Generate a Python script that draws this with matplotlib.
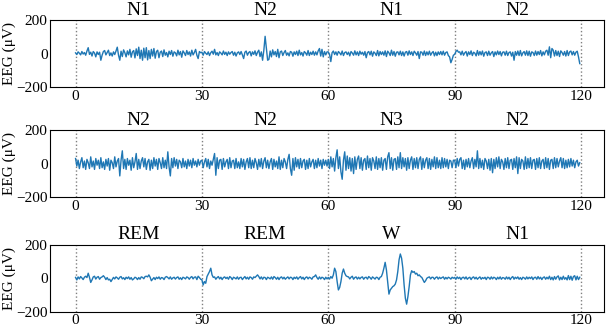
import numpy as np
import matplotlib
matplotlib.use("Agg")
import matplotlib.pyplot as plt
import matplotlib.transforms as mtransforms

################################
#### data (EEG in uV, 100 samples per 30 s epoch)
################################

stages = [["N1", "N2", "N1", "N2"],
          ["N2", "N2", "N3", "N2"],
          ["REM", "REM", "W", "N1"]]

p1_e1 = [4, -6, 10, 2, -8, 12, -3, 6, -10, 15, 35, -5, 8, -15, 12, 3, -20, 10, -6, 8,
         -40, -10, 12, 18, -8, 6, 20, -12, 4, -15, 10, -6, 15, 38, -10, -40, 14, -18, 22, 5,
         -20, 16, -8, 25, -22, 10, 18, -26, 28, -12, 38, -30, 20, -40, 32, -25, 35, -38, 18, -30,
         25, -15, 30, -28, 12, 20, -25, 8, 15, -18, 22, -10, 6, -20, 14, -6, 18, -16, 10, 4,
         -14, 20, -8, 12, -22, 16, 4, -12, 18, -6, 10, -15, 20, -8, 6, 25, -10, -30, 12, 5]
p1_e2 = [8, -10, 12, 2, -6, 10, -12, 5, 14, -4, 25, -8, 6, -12, 10, 3, -8, 15, -5, 8,
         -12, 10, -4, 6, 12, -10, 8, -15, 4, 10, -6, 12, -8, -30, 8, 15, -10, 6, 12, -14,
         10, -5, 16, -12, 8, 20, -18, 10, -40, 20, 103, 30, -40, -35, 15, -20, 22, -8, 12, -18,
         25, -25, 10, 15, -12, 6, 18, -10, 4, -14, 12, 8, -16, 10, -6, 14, -12, 20, -8, 6,
         -15, 12, 4, -10, 18, -12, 8, -6, 14, -10, 10, -8, 16, 30, -15, 25, -20, 12, -8, 10]
p1_e3 = [10, -5, -48, 5, 15, -6, 10, -10, 12, 4, -8, 15, -12, 6, 10, -6, 8, -14, 12, 3,
         -10, 16, -8, 10, -12, 14, -4, 8, -10, 12, -25, 6, 12, -8, 14, -16, 10, 2, -12, 18,
         -14, 12, -6, 10, -10, 16, -18, 14, 4, -12, 20, -10, 12, -16, 8, 10, -8, 14, -12, 10,
         -15, 8, 12, -10, 16, -6, 10, -12, 14, 4, -10, 12, -30, 10, 8, -10, 15, -12, 10, -8,
         14, -10, 4, 12, -14, 8, -12, 10, -6, 12, -8, 14, -10, 6, 10, -12, -20, -55, -35, -10]
p1_e4 = [-5, 12, 20, 8, 10, -8, 14, -10, 4, 12, -15, 10, -6, 16, -12, 8, 2, -14, 18, -10,
         12, -8, 15, -16, 6, 10, -12, 14, -10, 4, 12, -18, 10, -8, 15, -6, 12, -14, 8, 10,
         -10, 14, -12, 6, 10, -15, 8, -40, 12, -10, 15, -12, 18, -14, 4, 12, -10, 16, -12, 14,
         -16, 10, 6, -12, 15, -10, 12, -6, 18, -14, 10, -8, 14, 20, -10, 40, -25, 30, 20, -15,
         18, -12, 14, -18, 16, 6, -10, 12, -15, 18, -12, 10, 15, -8, 12, -10, 8, 14, -20, -60]

p2_e1 = [30, -15, 20, -30, 10, 35, -25, 15, -35, 25, 5, -30, 40, -20, 15, -35, 30, -10, 20, -30,
         35, -25, 10, -35, 25, -15, 30, -40, 20, 5, -30, 40, -20, 15, 30, -74, 20, 76, -30, 25,
         -35, 30, -10, 20, -40, 35, -25, 10, 60, -35, 25, -30, 15, 35, -20, 30, -35, 10, 25, -40,
         20, -30, 35, -15, 25, -35, 30, 5, -30, 35, -25, 20, -30, 70, -20, -74, 30, -25, 35, -15,
         25, -30, 20, 10, -25, 30, -20, 15, -30, 25, -15, 20, -25, 30, -10, 15, -20, 25, -10, 15]
p2_e2 = [20, -25, 10, 30, -20, 25, -30, 15, -10, 25, 60, -70, 35, -30, 20, 25, -35, 30, -20, 10,
         25, -30, 35, -25, 15, 20, -30, 30, -25, 10, -30, 30, -20, 25, -35, 10, 30, -25, 35, -30,
         20, -25, 30, 5, -35, 25, -20, 30, -30, 15, 35, -25, 20, -30, 10, 30, -35, 25, -20, 15,
         -30, 40, -35, 20, -25, 30, 10, -30, 25, 55, -30, -70, 30, -40, 35, -20, 25, -30, 30, -25,
         15, 25, -35, 20, -30, 30, -20, 10, 25, -30, 20, -25, 30, -15, 20, -30, 25, -10, 20, -15]
p2_e3 = [25, -30, 40, -20, 30, -45, 35, 82, -30, 40, -50, -94, 20, 70, -40, 45, -30, 35, -45, 30,
         -60, 40, -35, 25, 45, -30, 35, -40, 20, 30, -35, 45, -25, 30, -40, 35, 15, -30, 40, -35,
         30, -25, 35, -40, 20, 30, -35, 40, 65, -30, 35, -40, 25, 30, -35, 40, -25, 65, -30, 35,
         -20, 30, -40, 35, -30, 20, 40, -35, 30, -25, 35, -30, 25, 40, -35, 30, -25, 20, 35, -30,
         30, -35, 25, -20, 40, -30, 35, -25, 20, -30, 35, -25, 30, -20, 25, -30, 20, 15, -25, 20]
p2_e4 = [20, -25, 30, -15, 25, 35, -30, 20, -35, 25, -20, 30, -25, 15, 35, -30, 25, -20, 76, -30,
         30, -25, 20, -35, 30, 15, -30, 25, -40, 30, -55, 25, -30, 35, -20, 40, -30, 25, 10, -35,
         30, -25, 35, -30, 20, 25, -35, 30, -25, 40, -60, 35, -30, 25, 15, -35, 40, -30, 30, -25,
         35, -30, 20, 25, -35, 30, -25, 35, -30, 15, 25, -30, 35, -25, 30, -35, 20, 25, -30, 35,
         -25, 30, -20, 15, 35, -25, 30, -30, 20, -25, 25, -20, 30, -15, 20, -25, 10, 20, -15, 5]

p3_e1 = [5, -10, 8, -4, 10, 2, -8, 6, 12, 4, 30, 5, -25, -10, 8, 12, -5, 6, 10, -6,
         4, 8, 15, 6, -8, 4, -10, -6, -20, -8, 5, -4, 8, 2, -6, 6, 10, -4, 3, -8,
         6, -2, 8, -6, 4, -10, -4, 6, 2, -8, 4, -6, 8, 5, -3, 10, 12, 8, 20, 6,
         -15, -5, 4, -8, 6, -2, 8, -6, 4, 2, -8, 6, 10, 4, -4, 8, -6, 2, 6, -5,
         4, 8, -6, 3, -8, 6, 2, -4, 8, 4, -6, 5, 10, -4, 6, 8, -8, 12, 4, -6]
p3_e2 = [-10, -40, -20, -30, 10, 25, 40, 60, 20, 5, 8, -6, 4, 10, -4, 6, -8, 4, 8, -2,
         6, -6, 10, 4, -8, 6, 2, -4, 8, -6, 4, 6, -8, 2, 10, -4, 6, -6, 8, 4,
         -6, 8, 4, 12, 20, 10, -4, 8, -6, 6, 4, -8, 6, 2, -4, 8, -6, 10, 4, -6,
         6, -8, 4, 8, -4, 6, -6, 2, 8, -4, 6, 4, -8, 6, -2, 8, -6, 4, 10, -4,
         6, -8, 4, 8, -4, 6, 2, -6, 8, 10, 20, 4, -6, 8, -4, 6, 2, -8, 6, -4]
p3_e3 = [5, -5, 10, 0, 20, 60, 40, -20, -70, -55, -20, 30, 55, 30, 15, 10, 8, -4, 6, 12,
         -6, 4, 8, -5, 6, -4, 5, 8, -6, 4, 6, -5, 10, 4, -6, 8, 2, -5, 6, 4,
         -8, 6, 10, 30, 60, 95, 50, -20, -95, -70, -60, -50, -45, -35, -10, 40, 110, 145, 120, 60,
         -40, -120, -155, -110, -50, 20, 45, 35, 40, 25, 30, 15, 20, 10, 5, -10, -25, -15, 0, 5,
         8, -4, 6, 5, -6, 4, 8, -5, 6, -2, 4, 8, -6, 5, -4, 6, 2, -5, 6, 0]
p3_e4 = [5, -6, 8, -2, 6, -8, 4, 6, -4, 8, -6, 2, 6, -8, 4, 8, -4, 6, -6, 2,
         8, -6, 4, -2, 6, -8, 6, 4, -6, 8, -4, 6, 2, -8, 6, -4, 8, -6, 4, 2,
         -6, 8, -4, 6, -8, 4, 10, -6, 6, -2, 8, -6, 4, -8, 6, 2, -6, 8, -4, 6,
         -2, 8, -8, 4, 6, -6, 10, -4, 6, -8, 4, 8, -6, 6, -4, 12, -8, 6, -10, 10,
         -6, 8, 14, -10, 6, -8, 12, -6, 4, -10, 16, -8, 12, -12, 10, 15, -10, 12, -8, 6]

panels = [[p1_e1, p1_e2, p1_e3, p1_e4],
          [p2_e1, p2_e2, p2_e3, p2_e4],
          [p3_e1, p3_e2, p3_e3, p3_e4]]

epoch_len = 30  # seconds
x_ticks = [0, 30, 60, 90, 120]

################################
#### plotting
################################

plt.rcParams['font.family'] = ['Liberation Serif', 'DejaVu Serif']

fig = plt.figure(figsize=(6.06, 3.24), dpi=100)
bottoms = [0.7315, 0.392, 0.038]
height = 0.2065

for k, epochs in enumerate(panels):
    ax = fig.add_axes([0.083, bottoms[k], 0.914, height])
    t = []; v = []
    for i, ep in enumerate(epochs):
        t.extend(i * epoch_len + np.arange(len(ep)) * epoch_len / len(ep))
        v.extend(ep)
    ax.plot(t, v, color='#1f77b4', lw=1.0)
    for xv in x_ticks:
        ax.axvline(xv, color='gray', ls=':', lw=1.0, zorder=0)
    ax.set_xlim(-6, 125.5)
    ax.set_ylim(-200, 200)
    ax.set_xticks(x_ticks)
    ax.set_yticks([-200, 0, 200])
    ax.tick_params(length=0, labelsize=11, pad=2)
    ax.set_ylabel('EEG (μV)', fontsize=11, ha='center', va='center')
    ax.yaxis.set_label_coords(-0.074, 0.5)
    trans = mtransforms.blended_transform_factory(ax.transData, ax.transAxes)
    for i, s in enumerate(stages[k]):
        ax.text(i * epoch_len + epoch_len / 2, 1.02, s, transform=trans,
                ha='center', va='bottom', fontsize=14)

fig.savefig('out.png', dpi=100)
